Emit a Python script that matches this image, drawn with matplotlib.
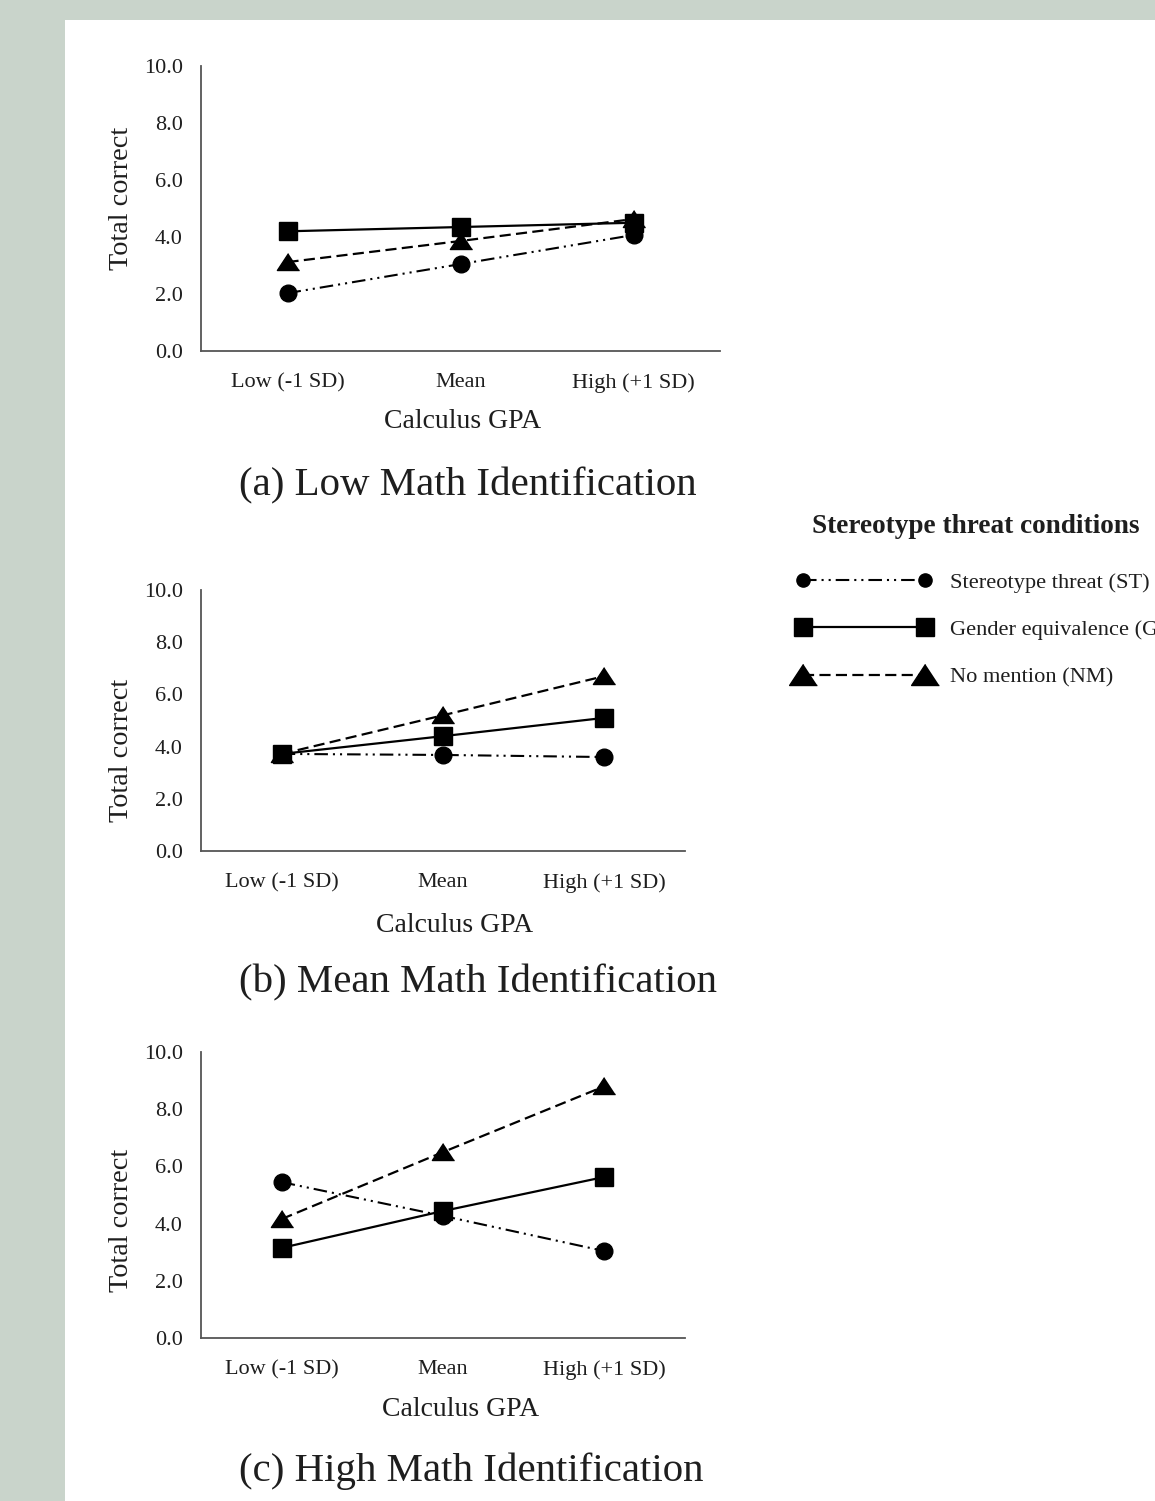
import matplotlib
matplotlib.use("Agg")
import matplotlib.pyplot as plt
from matplotlib.patches import Rectangle

plt.rcParams['font.family'] = ['Liberation Serif', 'DejaVu Serif']

categories = ["Low (-1 SD)", "Mean", "High (+1 SD)"]
series_names = ["Stereotype threat (ST)", "Gender equivalence (GE)", "No mention (NM)"]

# Panel (a) Low Math Identification
low_st = [2.03, 3.05, 4.07]
low_ge = [4.20, 4.35, 4.50]
low_nm = [3.12, 3.86, 4.63]
# Panel (b) Mean Math Identification
mean_st = [3.72, 3.68, 3.60]
mean_ge = [3.72, 4.40, 5.10]
mean_nm = [3.72, 5.20, 6.70]
# Panel (c) High Math Identification
high_st = [5.45, 4.27, 3.04]
high_ge = [3.15, 4.44, 5.63]
high_nm = [4.16, 6.50, 8.80]

panel_titles = ["(a) Low Math Identification", "(b) Mean Math Identification",
                "(c) High Math Identification"]
yticks = [0, 2, 4, 6, 8, 10]

W, H = 1155, 1501
fig = plt.figure(figsize=(W / 100, H / 100), dpi=100)
fig.patch.set_facecolor("#c9d4cb")
fig.patches.append(Rectangle((65 / W, 0), 1 - 65 / W, 1 - 20 / H,
                             transform=fig.transFigure, facecolor="white",
                             edgecolor="none", zorder=-10))

def fx(px):
    return px / W

def fy(py):
    return 1 - py / H

tri = [(0, 1.0), (-1.25, -0.9), (1.25, -0.9)]
styles = [
    dict(marker="o", ms=12, ls=(0, (6.5, 2.4, 1, 2.4, 1, 2.4)), lw=1.5, z=3),
    dict(marker="s", ms=12.5, ls="-", lw=1.6, z=5),
    dict(marker=tri, ms=16, ls=(0, (5, 2.4)), lw=1.6, z=4),
]

# (left, top, right, bottom) px, xlabel center x, ylabel center y, title y, xlabel y
layouts = [
    (201, 66, 720, 351, 463, 198, 486, 422),
    (201, 590, 685, 851, 455, 750, 983, 925),
    (201, 1052, 685, 1338, 461, 1220, 1471, 1409),
]
data = [(low_st, low_ge, low_nm), (mean_st, mean_ge, mean_nm), (high_st, high_ge, high_nm)]

handles = []
for i, (lay, ser) in enumerate(zip(layouts, data)):
    l, t, r, b, xlc, ylc, ty, xly = lay
    ax = fig.add_axes([fx(l), fy(b), fx(r) - fx(l), fy(t) - fy(b)])
    ax.set_facecolor("none")
    xs = list(range(len(categories)))
    hs = []
    for vals, st, name in zip(ser, styles, series_names):
        h, = ax.plot(xs, vals, color="black", marker=st["marker"], markersize=st["ms"],
                     linestyle=st["ls"], linewidth=st["lw"], label=name, clip_on=False,
                     zorder=st["z"])
        hs.append(h)
    if i == 0:
        handles = hs
    ax.set_xlim(-0.5, 2.5)
    ax.set_ylim(0, 10)
    ax.set_yticks(yticks)
    ax.set_yticklabels([f"{v:.1f}" for v in yticks])
    ax.set_xticks(xs)
    ax.set_xticklabels(categories)
    ax.tick_params(length=0, labelsize=16, colors="#1e1e1e")
    ax.tick_params(axis="y", pad=13)
    ax.tick_params(axis="x", pad=16)
    for s in ["top", "right"]:
        ax.spines[s].set_visible(False)
    for s in ["left", "bottom"]:
        ax.spines[s].set_color("#555555")
        ax.spines[s].set_linewidth(1.3)
    fig.text(fx(xlc), fy(xly), "Calculus GPA", ha="center", va="center", fontsize=20,
             color="#1e1e1e")
    fig.text(fx(122), fy(ylc), "Total correct", ha="center", va="center", fontsize=20.3,
             rotation=90, color="#1e1e1e")
    fig.text(fx(239), fy(ty), panel_titles[i], ha="left", va="center", fontsize=29.4,
             color="#1e1e1e")

fig.text(fx(976), fy(527), "Stereotype threat conditions", ha="center", va="center",
         fontsize=19.6, fontweight="bold", color="#1e1e1e")
leg = fig.legend(handles=handles, labels=series_names, loc="upper left",
                 bbox_to_anchor=(fx(796), fy(572)), frameon=False, numpoints=2,
                 fontsize=16.1, handlelength=6.09, handletextpad=0.79, labelspacing=1.2,
                 borderpad=0, borderaxespad=0)
leg_ms = [9.5, 13, 20]
for hd, ms in zip(leg.legend_handles, leg_ms):
    hd.set_markersize(ms)
for txt in leg.get_texts():
    txt.set_color("#1e1e1e")

fig.savefig("out.png", dpi=100)
